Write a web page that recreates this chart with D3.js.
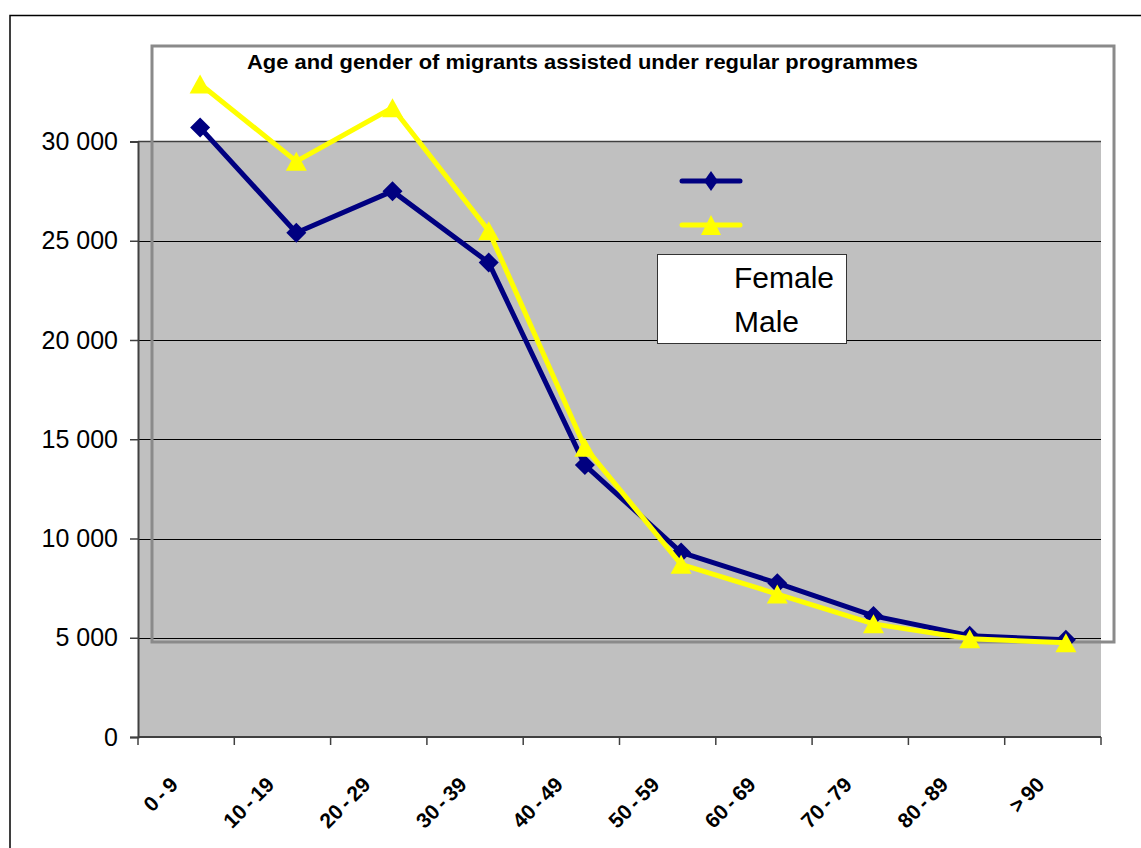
<!DOCTYPE html>
<html>
<head>
<meta charset="utf-8">
<script src="https://cdn.jsdelivr.net/npm/d3@7"></script>
<style>
  body { margin: 0; background: #fff; }
  svg { display: block; font-family: Arial, "Liberation Sans", sans-serif; }
</style>
</head>
<body>
<div id="chart"></div>
<script>
// data
let ageGroups = ['0 - 9', '10 - 19', '20 - 29', '30 - 39', '40 - 49', '50 - 59', '60 - 69', '70 - 79', '80 - 89', '> 90'];
let female = [30700, 25400, 27500, 23900, 13700, 9300, 7750, 6100, 5100, 4900];
let male = [32900, 29000, 31700, 25500, 14600, 8700, 7200, 5700, 4950, 4750];
let yTicks = [0, 5000, 10000, 15000, 20000, 25000, 30000];
let seriesNames = ['Female', 'Male'];

let svgWidth = 1141;
let svgHeight = 848;

// plot area (the grey one with the axes)
let plot = { left: 138, right: 1101, top: 141.5, bottom: 737 };
// the framed box the series are drawn in (sits a bit offset, as in the original)
let frame = { left: 152, right: 1114, top: 46, bottom: 642 };

let svg = d3.select('#chart')
    .append('svg')
    .attr('width', svgWidth)
    .attr('height', svgHeight);

// outer border
svg.append('rect')
    .attr('x', 10).attr('y', 15.5)
    .attr('width', 1160).attr('height', 860)
    .attr('fill', 'none')
    .attr('stroke', '#000')
    .attr('stroke-width', 1.5);

let xAxisScale = d3.scaleBand()
    .domain(ageGroups)
    .range([plot.left, plot.right]);

let xLineScale = d3.scaleBand()
    .domain(ageGroups)
    .range([frame.left, frame.right]);

let yScale = d3.scaleLinear()
    .domain([0, 30000])
    .range([plot.bottom, plot.top]);

let fmt = d3.formatLocale({ decimal: ',', thousands: ' ', grouping: [3], currency: ['', ''] }).format(',d');

// grey plot area
svg.append('rect')
    .attr('x', plot.left).attr('y', plot.top)
    .attr('width', plot.right - plot.left)
    .attr('height', plot.bottom - plot.top)
    .attr('fill', '#c0c0c0');

// gridlines
svg.append('g')
    .selectAll('line')
    .data(yTicks.filter(d => d > 0 && d < 30000))
    .enter()
    .append('line')
    .attr('x1', plot.left).attr('x2', plot.right)
    .attr('y1', d => Math.round(yScale(d)) + 0.5)
    .attr('y2', d => Math.round(yScale(d)) + 0.5)
    .attr('stroke', '#000')
    .attr('stroke-width', 1);

// top edge of plot area
svg.append('line')
    .attr('x1', plot.left).attr('x2', plot.right)
    .attr('y1', yScale(30000)).attr('y2', yScale(30000))
    .attr('stroke', '#404040')
    .attr('stroke-width', 1.5);

// y axis
let leftAxis = d3.axisLeft(yScale)
    .tickValues(yTicks)
    .tickSize(8)
    .tickPadding(12)
    .tickFormat(fmt);

let yAxis = svg.append('g')
    .attr('transform', `translate(${plot.left}, 0)`)
    .call(leftAxis);

yAxis.select('.domain').attr('stroke', '#404040').attr('stroke-width', 2);
yAxis.selectAll('.tick line').attr('stroke', '#404040').attr('stroke-width', 1.5);
yAxis.selectAll('.tick text')
    .attr('font-size', '25px')
    .attr('font-family', 'Arial, "Liberation Sans", sans-serif')
    .attr('fill', '#000');

// x axis: ticks on the category boundaries
let boundaries = ageGroups.map(d => xAxisScale(d)).concat([plot.right]);
let xAxis = svg.append('g');
xAxis.append('line')
    .attr('x1', plot.left).attr('x2', plot.right)
    .attr('y1', plot.bottom).attr('y2', plot.bottom)
    .attr('stroke', '#404040')
    .attr('stroke-width', 2);
xAxis.selectAll('.xtick')
    .data(boundaries)
    .enter()
    .append('line')
    .attr('x1', d => d).attr('x2', d => d)
    .attr('y1', plot.bottom).attr('y2', plot.bottom + 8)
    .attr('stroke', '#404040')
    .attr('stroke-width', 1.5);

xAxis.selectAll('.xlabel')
    .data(ageGroups)
    .enter()
    .append('text')
    .attr('text-anchor', 'end')
    .attr('font-size', '21px')
    .attr('font-weight', 'bold')
    .attr('word-spacing', '-2px')
    .attr('transform', d => `translate(${xAxisScale(d) + xAxisScale.bandwidth() / 2 - 7}, 786) rotate(-45)`)
    .text(d => d);

// the offset framed box
svg.append('rect')
    .attr('x', frame.left).attr('y', frame.top)
    .attr('width', frame.right - frame.left)
    .attr('height', frame.bottom - frame.top)
    .attr('fill', 'none')
    .attr('stroke', '#8a8a8a')
    .attr('stroke-width', 3);

// title
svg.append('text')
    .attr('x', 247)
    .attr('y', 69)
    .attr('font-size', '20px')
    .attr('font-weight', 'bold')
    .attr('textLength', 671)
    .attr('lengthAdjust', 'spacingAndGlyphs')
    .text('Age and gender of migrants assisted under regular programmes');

// series
let cx = d => xLineScale(d) + xLineScale.bandwidth() / 2;

let diamond = (x, y, w, h) => `M${x},${y - h}L${x + w},${y}L${x},${y + h}L${x - w},${y}Z`;
let triangle = (x, y, w, h) => `M${x},${y - h / 2}L${x + w / 2},${y + h / 2}L${x - w / 2},${y + h / 2}Z`;

let seriesList = [
    { name: 'Female', values: female, color: '#000080', marker: 'diamond' },
    { name: 'Male', values: male, color: '#ffff00', marker: 'triangle' },
];

let line = d3.line()
    .x(d => cx(d.cat))
    .y(d => yScale(d.value));

seriesList.forEach(function(s) {
    let pts = ageGroups.map((c, i) => ({ cat: c, value: s.values[i] }));
    let g = svg.append('g');
    g.append('path')
        .datum(pts)
        .attr('d', line)
        .attr('fill', 'none')
        .attr('stroke', s.color)
        .attr('stroke-width', 5)
        .attr('stroke-linejoin', 'round');
    g.selectAll('path.marker')
        .data(pts)
        .enter()
        .append('path')
        .attr('class', 'marker')
        .attr('d', d => s.marker === 'diamond'
            ? diamond(cx(d.cat), yScale(d.value), 10, 10)
            : triangle(cx(d.cat), yScale(d.value), 21, 19))
        .attr('fill', s.color);
});

// legend line samples
let legendY = [181, 225];
seriesList.forEach(function(s, i) {
    svg.append('line')
        .attr('x1', 682).attr('x2', 740)
        .attr('y1', legendY[i]).attr('y2', legendY[i])
        .attr('stroke', s.color)
        .attr('stroke-width', 5)
        .attr('stroke-linecap', 'round');
    svg.append('path')
        .attr('d', s.marker === 'diamond'
            ? diamond(711, legendY[i], 7, 10)
            : triangle(711, legendY[i], 20, 20))
        .attr('fill', s.color);
});

// legend text box
svg.append('rect')
    .attr('x', 657.5).attr('y', 254.5)
    .attr('width', 189).attr('height', 89)
    .attr('fill', '#fff')
    .attr('stroke', '#333')
    .attr('stroke-width', 1);

svg.selectAll('.legendText')
    .data(seriesNames)
    .enter()
    .append('text')
    .attr('x', 734)
    .attr('y', (d, i) => 288 + i * 44)
    .attr('font-size', '30px')
    .text(d => d);
</script>
</body>
</html>
